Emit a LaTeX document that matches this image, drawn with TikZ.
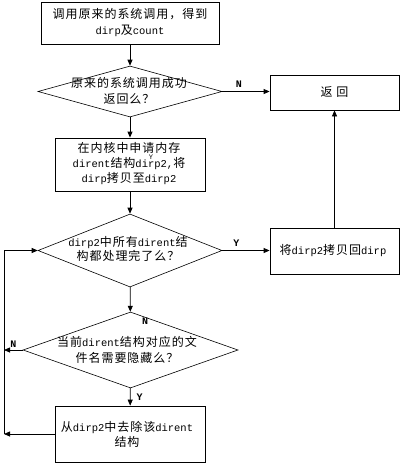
\documentclass[tikz,border=0pt]{standalone}
\usepackage{fontspec}
\setmainfont{Liberation Mono}
\newfontfamily\cjk[LetterSpace=8]{Noto Sans CJK SC}
\usetikzlibrary{arrows.meta,shapes.geometric}
\newcommand{\zh}[1]{{\cjk\fontsize{12}{\baselineskip}\selectfont #1}}
\tikzset{
  box/.style={draw, line width=0.8pt, rectangle, inner sep=0pt},
  dia/.style={draw, line width=0.6pt, diamond, inner sep=0pt, aspect=2},
  txt/.style={align=center, font=\fontsize{10.5}{16}\selectfont, inner sep=0pt},
  arr/.style={line width=0.8pt, -{Triangle[length=6pt,width=5pt]}},
  lbl/.style={font=\fontsize{10}{10}\selectfont\bfseries, inner sep=0pt},
}
\begin{document}
\begin{tikzpicture}[x=1pt,y=-1pt]
\useasboundingbox (0,0) rectangle (401,463);
% boxes
\node[box, minimum width=178pt, minimum height=42pt] (b1) at (130,23) {};
\node[txt] (t1) at (b1) {\zh{调用原来的系统调用，得到}\\dirp\zh{及}count};
\node[dia, minimum width=184pt, minimum height=51pt] (d1) at (130,91.5) {};
\node[txt] (t2) at (129,90.5) {\zh{原来的系统调用成功}\\\zh{返回么？}};
\node[box, minimum width=129pt, minimum height=35pt] (ret) at (334.5,92.5) {};
\node[txt] (t3) at (ret) {\zh{返 回}};
\node[box, minimum width=150pt, minimum height=53pt] (b3) at (130,164.5) {};
\node[txt, font=\fontsize{10.5}{15}\selectfont] (t4) at (129,164) {\zh{在内核中申请内存}\\dirent\zh{结构}dirp2,\zh{将}\\dirp\zh{拷贝至}dirp2};
\node[dia, minimum width=184pt, minimum height=73pt] (d2) at (130,250.5) {};
\node[txt, font=\fontsize{10.5}{14}\selectfont] (t5) at (128,249) {dirp2\zh{中所有}dirent\zh{结}\\\zh{构都处理完了么？}};
\node[box, minimum width=129pt, minimum height=46pt] (b4) at (334.5,251) {};
\node[txt] (t6) at (333,251) {\zh{将}dirp2\zh{拷贝回}dirp};
\node[dia, minimum width=215pt, minimum height=76pt] (d3) at (130.5,350) {};
\node[txt] (t7) at (127,350) {\zh{当前}dirent\zh{结构对应的文}\\\zh{件名需要隐藏么？}};
\node[box, minimum width=150pt, minimum height=56pt] (b5) at (130,434) {};
\node[txt, font=\fontsize{10.5}{15}\selectfont] (t8) at (127,434.5) {\zh{从}dirp2\zh{中去除该}dirent\\\zh{结构}};
% junction coordinates on the left loop line
\coordinate (j1) at (4,350);
\coordinate (j2) at (4,434);
% connectors
\draw[arr] (b1) -- (d1);
\draw[arr] (d1.east) -- node[lbl, above=4pt, pos=0.35] (n1) {N} (d1.east -| ret.west);
\draw[arr] (d1) -- (b3);
\draw[arr] (b3) -- (d2);
\draw[arr] (d2.east) -- node[lbl, above=4pt, pos=0.3] (y1) {Y} (d2.east -| b4.west);
\draw[arr] (b4.north) -- (ret.south);
\draw[arr] (d2) -- (d3);
\draw[arr] (d3) -- node[lbl, right=6pt] (y2) {Y} (b5);
\draw[arr] (d3.west) -- node[lbl, above=2pt] (n2) {N} (j1);
\draw[arr] (b5.west) -- (j2);
\draw[arr] (j2) |- (d2.west);
% stray labels printed in the figure
\node[lbl, font=\fontsize{7}{7}\selectfont] (y3) at (151,157) {Y};
\node[lbl] (n3) at (145,321) {N};
\end{tikzpicture}
\end{document}
